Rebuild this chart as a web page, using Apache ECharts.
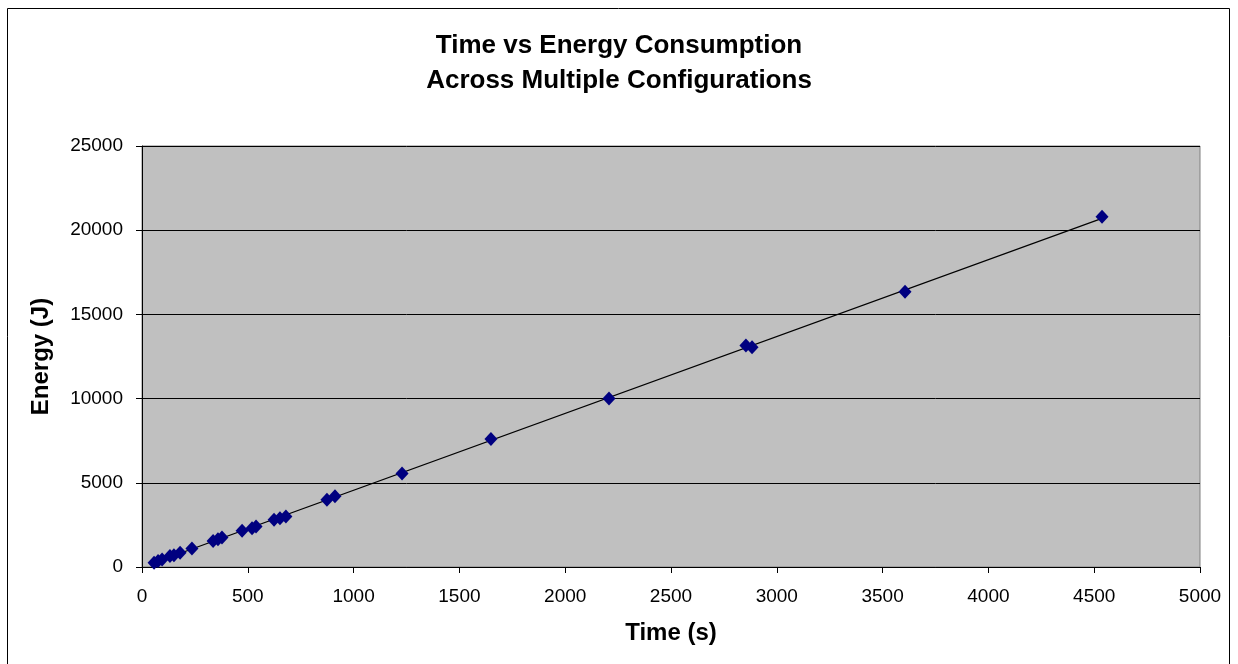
<!DOCTYPE html>
<html>
<head>
<meta charset="utf-8">
<script src="https://cdn.jsdelivr.net/npm/echarts@6/dist/echarts.min.js"></script>
<style>
html,body{margin:0;padding:0;background:#fff;}
#chart{width:1238px;height:664px;}
</style>
</head>
<body>
<div id="chart"></div>
<script>
const timeValues = [57, 76, 95, 132, 151, 180, 236, 336, 359, 378, 473, 520, 539, 624, 652, 680, 874, 912, 1229, 1649, 2207, 2854, 2883, 3606, 4537];
const energyValues = [250, 350, 450, 650, 700, 850, 1100, 1550, 1650, 1750, 2150, 2300, 2400, 2800, 2900, 3000, 4000, 4200, 5550, 7600, 10000, 13150, 13050, 16350, 20800];
const xTicks = [0, 500, 1000, 1500, 2000, 2500, 3000, 3500, 4000, 4500, 5000];
const yTicks = [0, 5000, 10000, 15000, 20000, 25000];

const points = timeValues.map((t, i) => [t, energyValues[i]]);

// linear trendline (least squares) from the data
const n = timeValues.length;
const mx = timeValues.reduce((a, b) => a + b, 0) / n;
const my = energyValues.reduce((a, b) => a + b, 0) / n;
let sxy = 0, sxx = 0;
for (let i = 0; i < n; i++) { sxy += (timeValues[i] - mx) * (energyValues[i] - my); sxx += (timeValues[i] - mx) ** 2; }
const slope = sxy / sxx, intercept = my - slope * mx;
const tMin = Math.min(...timeValues), tMax = Math.max(...timeValues);
const trend = [[tMin, intercept + slope * tMin], [tMax, intercept + slope * tMax]];

const font = "Liberation Sans, Arial, sans-serif";
const chart = echarts.init(document.getElementById('chart'));
chart.setOption({
  animation: false,
  backgroundColor: '#fff',
  title: {
    text: 'Time vs Energy Consumption\nAcross Multiple Configurations',
    left: 'center', top: 23,
    textStyle: { fontFamily: font, fontSize: 26, fontWeight: 'bold', color: '#000', lineHeight: 35 }
  },
  graphic: [{
    type: 'rect', shape: { x: 7.5, y: 8.5, width: 1222, height: 680 },
    style: { fill: 'none', stroke: '#000', lineWidth: 1 }, silent: true, z: -1
  }],
  grid: { left: 142, right: 38, top: 146, bottom: 97, show: true, backgroundColor: '#c0c0c0', borderColor: '#808080', borderWidth: 1 },
  xAxis: {
    type: 'value', min: xTicks[0], max: xTicks[xTicks.length - 1], interval: 500,
    name: 'Time (s)', nameLocation: 'middle', nameGap: 54,
    nameTextStyle: { fontFamily: font, fontSize: 24, fontWeight: 'bold', color: '#000' },
    axisLine: { show: true, onZero: false, lineStyle: { color: '#000', width: 1 } },
    axisTick: { show: true, inside: false, length: 6, lineStyle: { color: '#000' } },
    axisLabel: { fontFamily: font, fontSize: 19, color: '#000', margin: 20, formatter: v => String(v) },
    splitLine: { show: false }
  },
  yAxis: {
    type: 'value', min: yTicks[0], max: yTicks[yTicks.length - 1], interval: 5000,
    name: 'Energy (J)', nameLocation: 'middle', nameGap: 89,
    nameTextStyle: { fontFamily: font, fontSize: 24, fontWeight: 'bold', color: '#000' },
    axisLine: { show: true, onZero: false, lineStyle: { color: '#000', width: 1 } },
    axisTick: { show: true, inside: false, length: 6, lineStyle: { color: '#000' } },
    axisLabel: { fontFamily: font, fontSize: 19, color: '#000', margin: 19, formatter: v => String(v) },
    splitLine: { show: true, lineStyle: { color: '#000', width: 1 } }
  },
  series: [
    {
      type: 'line', data: trend, symbol: 'none', silent: true,
      lineStyle: { color: '#000', width: 1.2 }, z: 2
    },
    {
      type: 'scatter', data: points, symbol: 'diamond', symbolSize: [13, 14],
      itemStyle: { color: '#000080', borderWidth: 0, opacity: 1 }, z: 3
    }
  ]
});
</script>
</body>
</html>
